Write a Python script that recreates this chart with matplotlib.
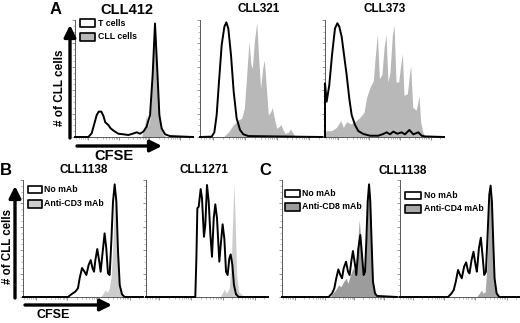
import numpy as np
import matplotlib.pyplot as plt
from matplotlib.patches import Rectangle, FancyArrowPatch

plt.rcParams['font.family'] = ['Liberation Sans', 'DejaVu Sans']
plt.rcParams['font.weight'] = 'bold'

# ---- data: x = % of CFSE axis (log scale), y = % of max count ----
a1_t_x = [0, 11.3, 14.1, 16.1, 18.4, 20.1, 22.3, 24.0, 25.7, 28.2, 30.2, 33.1, 36.7, 41.0, 45.2,
          48.9, 52.3, 55.1, 57.9, 60.7, 63.6, 65.8, 67.8, 69.8, 71.5, 73.4, 76.3, 80.5, 100]
a1_t_y = [0, 0, 3.1, 10.3, 18.8, 21.7, 21.7, 18.2, 12.5, 10.3, 7.4, 5.1, 2.8, 2.3, 1.7,
          2.8, 4.0, 2.8, 4.6, 8.8, 18.8, 53, 97, 55.8, 18.8, 7.4, 2.3, 0.8, 0]
a1_c_x = [56.5, 58.5, 60.7, 61.9, 63.6, 65.3, 67.8, 70.0, 72.0, 74.8, 77.7]
a1_c_y = [0, 7.4, 18.8, 8.8, 16, 47, 97, 47, 8.8, 1.7, 0]

a2_t_x = [0, 9.5, 11.7, 13.6, 15.5, 17.7, 19.9, 21.5, 23.1, 25.3, 27.5, 29.9, 32.7, 35.4, 39.5, 100]
a2_t_y = [0, 0.3, 4, 18.8, 47.3, 78.6, 94.3, 98, 92.9, 70.1, 38.7, 16, 6, 2.3, 0.8, 0]
a2_c_x = [19, 23.1, 27.2, 29.9, 31.3, 34.0, 36.2, 38.1, 40.0, 41.6, 42.7, 44.4, 46.3, 47.9, 49.5,
          51.2, 52.5, 54.2, 55.8, 57.7, 59.0, 60.7, 62.6, 64.5, 66.1, 67.8, 69.4, 72.1, 74.0,
          75.9, 77.6, 80]
a2_c_y = [0, 4, 10.3, 13.1, 14.5, 16, 24.5, 53, 81.5, 61.5, 58.7, 81.5, 98, 67.2, 41.6,
          58.7, 65.8, 41.6, 18.8, 21.6, 25, 16, 7.4, 8.8, 10.8, 6, 3.1, 4, 6.8,
          3.1, 0.8, 0]

a3_t_x = [0, 0, 1.4, 3.6, 5.9, 8.4, 10.4, 12.0, 14.0, 16.0, 18.2, 20.4, 22.4, 25.2, 28.0, 32.2,
          37.8, 44.8, 49.0, 51.8, 54.6, 57.4, 60.8, 64.4, 67.2, 70.9, 74.2, 78.4, 81.2, 84.0, 100]
a3_t_y = [0, 45.9, 30.2, 44.4, 70.1, 92.9, 97.2, 94.3, 85.8, 70.1, 53, 33, 18.8, 10.3, 5.1, 2.6,
          1.1, 1.1, 2.6, 4, 2.3, 4.6, 2.8, 4, 2.3, 6, 2.3, 4, 1.1, 0.5, 0]
a3_c_x = [0, 0.8, 5.6, 9.8, 13.2, 15.4, 18.2, 21.6, 25.2, 29.4, 32.8, 35.0, 37.8, 40.6, 42.3,
          44.0, 45.7, 47.9, 49.6, 51.3, 52.9, 54.6, 56.6, 58.0, 59.7, 61.9, 63.6, 65.0, 66.4,
          69.2, 70.9, 72.0, 73.7, 76.5, 77.9, 79.0, 80.4, 82.1, 84.0]
a3_c_y = [0, 5.4, 5.4, 8.3, 14, 8.3, 13.1, 11.1, 13.1, 16.8, 21.1, 34, 42.5, 48.1, 69.5,
          88, 49.6, 53.8, 75.8, 88, 47, 55.3, 86.6, 96, 47, 47, 61.3, 71.2, 35.6,
          37, 52.7, 61.3, 25.6, 22.8, 28.5, 35.6, 12.8, 4.3, 0]

b1_n_x = [0, 37.5, 40.3, 43.6, 45.8, 47.2, 49.2, 51.4, 52.8, 54.7, 56.4, 58.0, 59.2, 60.3, 61.9,
          63.6, 64.7, 66.4, 68.0, 69.4, 70.8, 72.2, 73.6, 75.0, 76.4, 77.8, 79.2, 80.6, 82.5, 84.7, 100]
b1_n_y = [0, 0, 2.3, 4.6, 7.4, 16, 24.8, 21.4, 18.8, 27.4, 31.6, 24.5, 21.6, 31.6, 41,
          30.2, 21.6, 38.7, 54.4, 41.6, 20.2, 18.8, 47.3, 81.5, 96.3, 81.5, 38.7, 10.3, 2.3, 0, 0]
b1_d_x = [64.7, 66.7, 68.6, 70.3, 71.9, 73.6, 75.0, 76.4, 77.8, 79.2, 80.8, 83.3, 86.1]
b1_d_y = [0, 3, 6, 4, 7.4, 18.8, 47.3, 90, 61.5, 21.6, 6, 1, 0]

b2_n_x = [0, 40.4, 41.3, 42.1, 43.2, 44.8, 45.9, 47.5, 48.6, 50.0, 51.4, 52.8, 54.1, 55.5, 56.8,
          58.2, 60.1, 61.5, 62.8, 64.2, 65.6, 66.9, 68.3, 69.4, 70.8, 72.1, 73.8, 76.0, 100]
b2_n_y = [0, 0, 33, 75.8, 77.2, 92.3, 84.3, 51.5, 61.5, 95.7, 81.5, 52.9, 34.4, 67.2, 79.2,
          67.2, 30.2, 47.3, 62.1, 50, 21.6, 18.8, 33, 36.4, 27.4, 10.3, 2.3, 0, 0]
b2_d_x = [60.9, 62.8, 64.2, 65.8, 68.3, 70.0, 71.0, 72.1, 73.2, 74.3, 76.0, 78.7, 81.4]
b2_d_y = [0, 4, 6.8, 3.1, 7.4, 33, 64.4, 96.3, 61.5, 18.8, 4.6, 1.7, 0]

c1_n_x = [0, 40.6, 43.5, 45.5, 47.2, 49.0, 50.7, 52.2, 53.6, 55.7, 57.4, 58.8, 60.3, 61.7, 63.5,
          64.6, 66.4, 68.1, 69.6, 71.0, 72.2, 73.3, 74.5, 75.7, 76.8, 77.9, 79.1, 80.9, 82.6, 100]
c1_n_y = [0, 0, 3, 7.4, 16, 23.6, 18.8, 16, 24.5, 30.2, 21.6, 18.8, 30.8, 39.3, 27.4,
          18.8, 41.6, 53, 35.6, 18.8, 21.6, 47.3, 81.5, 96.3, 81.5, 47.3, 13.1, 3.1, 0.9, 0]
c1_d_x = [42.0, 44.9, 47.2, 49.3, 51.3, 53.6, 55.7, 57.4, 59.4, 61.7, 63.5, 65.2, 67.2, 68.7,
          70.4, 72.2, 73.3, 74.5, 75.7, 76.8, 77.9, 79.1, 80.9, 82.6]
c1_d_y = [0, 4, 6.8, 10.3, 8.8, 13.1, 16, 11.7, 18.8, 24.5, 21.6, 38.7, 65.8, 47.3,
          21.6, 21.6, 47.3, 81.5, 96.3, 81.5, 47.3, 13.1, 3.1, 0]

c2_n_x = [0, 40.3, 43.1, 45.0, 46.7, 48.6, 50.3, 51.7, 53.6, 55.3, 57.0, 58.1, 59.8, 61.4, 63.1,
          64.2, 65.9, 67.5, 68.9, 70.3, 71.7, 73.1, 74.5, 75.6, 76.7, 77.8, 78.9, 80.6, 82.8, 100]
c2_n_y = [0, 0, 3, 6, 13.1, 23.1, 18.8, 16, 25.9, 29.6, 21.6, 20.2, 31.6, 38.7, 27.4,
          21.6, 41.6, 50.7, 35.6, 18.8, 21.6, 53, 87.2, 95.2, 81.5, 47.3, 16, 3.1, 0, 0]
c2_d_x = [63.9, 66.1, 68.1, 69.4, 71.1, 72.8, 74.2, 75.6, 76.7, 77.8, 78.9, 80.6, 82.2]
c2_d_y = [0, 3, 6, 3.1, 4.6, 29.9, 75.8, 94.3, 78.6, 41.6, 13.1, 2.3, 0]

FW, FH = 520, 323
fig = plt.figure(figsize=(FW / 100, FH / 100), dpi=100)


def fx(px):
    return px / FW


def fy(py):
    return 1 - py / FH


def panel(left, width, base, fill_x, fill_y, fill_col, line_x, line_y, height=117):
    ax = fig.add_axes([fx(left), fy(base), width / FW, height / FH])
    ax.fill_between(fill_x, fill_y, 0, color=fill_col, lw=0, zorder=1)
    ax.plot(line_x, line_y, color='black', lw=1.4, zorder=3, clip_on=False,
            solid_joinstyle='round')
    ax.set_xlim(0, 100)
    ax.set_ylim(0, 100)
    for s in ['top', 'right']:
        ax.spines[s].set_visible(False)
    for s in ['left', 'bottom']:
        ax.spines[s].set_linewidth(0.7)
        ax.spines[s].set_color('0.35')
    # log-style CFSE ticks
    dec = [-15, 11, 37, 63, 89]
    minor = [d + 26 * np.log10(k) for d in dec for k in range(2, 10)]
    ax.set_xticks([d for d in dec if d >= 0])
    ax.set_xticks([m for m in minor if 0 <= m <= 100], minor=True)
    ax.set_yticks(np.arange(0, 101, 20))
    ax.set_yticks(np.arange(0, 101, 5), minor=True)
    ax.tick_params(which='major', direction='out', length=2.5, width=0.5, color='0.4',
                   labelleft=False, labelbottom=False)
    ax.tick_params(which='minor', direction='out', length=1.3, width=0.4, color='0.5')
    return ax


panel(75, 118, 137, a1_c_x, a1_c_y, '#b8b8b8', a1_t_x, a1_t_y)
panel(200, 122.5, 137, a2_c_x, a2_c_y, '#b8b8b8', a2_t_x, a2_t_y)
panel(325, 119, 137, a3_c_x, a3_c_y, '#b8b8b8', a3_t_x, a3_t_y)
panel(23, 120, 297, b1_d_x, b1_d_y, '#cccccc', b1_n_x, b1_n_y)
panel(146, 122, 297, b2_d_x, b2_d_y, '#cccccc', b2_n_x, b2_n_y)
panel(282, 115, 297, c1_d_x, c1_d_y, '#9c9c9c', c1_n_x, c1_n_y)
panel(399.5, 120.5, 297, c2_d_x, c2_d_y, '#a8a8a8', c2_n_x, c2_n_y)


def label(px, py, s, size, **kw):
    fig.text(fx(px), fy(py), s, fontsize=size, fontweight='bold', ha='center', va='center', **kw)


# panel letters and titles
label(56, 10, 'A', 12)
label(6, 170.5, 'B', 12)
label(265, 170.5, 'C', 12)
label(127, 10, 'CLL412', 10.5)
label(258.5, 9, 'CLL321', 8.5)
label(384.5, 9, 'CLL373', 8.5)
label(84, 170, 'CLL1138', 8.5)
label(204, 170, 'CLL1271', 8.5)
label(402.5, 170.5, 'CLL1138', 8.5)


# axis arrows
def arrow(x0, y0, x1, y1):
    fig.add_artist(FancyArrowPatch(
        (fx(x0), fy(y0)), (fx(x1), fy(y1)), transform=fig.transFigure,
        arrowstyle='-|>,head_length=0.7,head_width=0.35', mutation_scale=10,
        lw=2.4, color='black', shrinkA=0, shrinkB=0))


arrow(70, 138, 70, 25)
arrow(77, 146, 162, 146)
label(60, 88, '# of CLL cells', 8.5, rotation=90)
label(114, 155.5, 'CFSE', 10.5)

arrow(15, 298, 15, 186)
arrow(25, 305, 112, 305)
label(8, 247, '# of CLL cells', 8.3, rotation=90)
label(53, 315, 'CFSE', 9)


# legends
def legend_item(x, y, w, h, fc, text):
    fig.add_artist(Rectangle((fx(x), fy(y + h)), w / FW, h / FH, transform=fig.transFigure,
                             fc=fc, ec='black', lw=1.2, joinstyle='round'))
    fig.text(fx(x + w + 2.5), fy(y + h / 2), text, fontsize=6.3, fontweight='bold',
             ha='left', va='center')


legend_item(79.5, 19.5, 15.5, 7, 'white', 'T cells')
legend_item(79.5, 33, 15.5, 7.5, '#b8b8b8', 'CLL cells')
legend_item(27.5, 185.5, 14.5, 7.5, 'white', 'No mAb')
legend_item(27.5, 200, 14.5, 8, '#cccccc', 'Anti-CD3 mAb')
legend_item(284.5, 189.5, 15.5, 7, 'white', 'No mAb')
legend_item(284.5, 202.5, 15.5, 8, '#9c9c9c', 'Anti-CD8 mAb')
legend_item(404.5, 191.5, 16.5, 7, 'white', 'No mAb')
legend_item(404.5, 204.5, 16.5, 8, '#a8a8a8', 'Anti-CD4 mAb')

fig.savefig('out.png', dpi=100)
